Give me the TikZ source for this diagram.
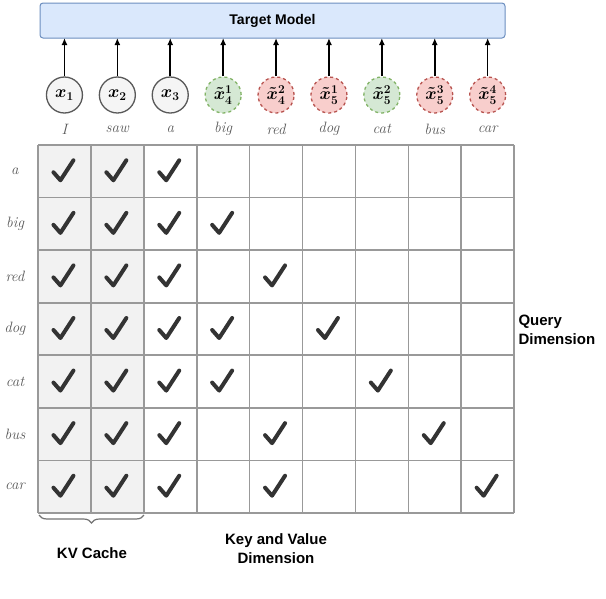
\documentclass[tikz,border=0pt]{standalone}
\usepackage{fontspec}
\newfontfamily\hv{Liberation Sans}
\usetikzlibrary{decorations.pathreplacing,arrows.meta}
\definecolor{gfill}{HTML}{D5E8D4}\definecolor{gdraw}{HTML}{82B366}
\definecolor{rfill}{HTML}{F8CECC}\definecolor{rdraw}{HTML}{B85450}
\definecolor{bfill}{HTML}{DAE8FC}\definecolor{bdraw}{HTML}{6C8EBF}
\definecolor{chk}{HTML}{333333}
\begin{document}
\begin{tikzpicture}[x=1pt,y=-1pt,
 tok/.style={circle,minimum size=36pt,inner sep=0pt,line width=1.3pt,font=\LARGE\boldmath},
 gtok/.style={tok,draw=black!65,fill=black!4},
 gok/.style={tok,draw=gdraw,fill=gfill,dashed},
 rok/.style={tok,draw=rdraw,fill=rfill,dashed},
 lab/.style={font=\fontsize{15}{15}\selectfont\itshape,text=black!65},
 bold/.style={font=\hv\bfseries\fontsize{15}{19}\selectfont,align=center},
 chkm/.style={draw=chk,line width=4pt,line cap=round,line join=round}]
\useasboundingbox (0,0) rectangle (606,598);
\node[draw=bdraw,fill=bfill,rounded corners=3pt,line width=1pt,minimum width=465pt,minimum height=35pt,inner sep=0pt,font=\hv\bfseries\fontsize{14}{14}\selectfont] (tm) at (272.5,20.5) {Target Model};
% grid
\def\cw{52.9}\def\rh{52.57}
\fill[black!5] (38,145) rectangle (143.8,513);
\foreach \i in {0,...,9} \draw[black!40,line width=1.6pt] (38+\i*\cw,145) -- (38+\i*\cw,513);
\foreach \j in {0,...,7} \draw[black!40,line width=1.6pt] (38,145+\j*\rh) -- (514,145+\j*\rh);
% tokens
\foreach \k/\s/\t in {1/gtok/{x_1},2/gtok/{x_2},3/gtok/{x_3},4/gok/{\tilde{x}_4^1},5/rok/{\tilde{x}_4^2},6/rok/{\tilde{x}_5^1},7/gok/{\tilde{x}_5^2},8/rok/{\tilde{x}_5^3},9/rok/{\tilde{x}_5^4}}{
 \node[\s] (t\k) at ({38+(\k-0.5)*\cw},95) {$\t$};
 \coordinate (u\k) at ({38+(\k-0.5)*\cw},38);
 \draw[-{Latex[length=7pt,width=6pt]},line width=1.6pt] (t\k.north) -- (u\k);
}
\foreach \k/\w in {1/I,2/saw,3/a,4/big,5/red,6/dog,7/cat,8/bus,9/car}
 \node[lab] (c\k) at ({38+(\k-0.5)*\cw},129) {\w};
\foreach \j/\w in {1/a,2/big,3/red,4/dog,5/cat,6/bus,7/car}
 \node[lab] (r\j) at (15,{145+(\j-0.5)*\rh}) {\w};
% checks
\foreach \j/\cols in {1/{1,2,3},2/{1,2,3,4},3/{1,2,3,5},4/{1,2,3,4,6},5/{1,2,3,4,7},6/{1,2,3,5,8},7/{1,2,3,5,9}}{
 \foreach \k in \cols {
  \draw[chkm] ({38+(\k-0.5)*\cw-11},{145+(\j-0.5)*\rh+1}) -- ++(7,8) -- ++(13,-20);
 }}
\node[bold,align=left,anchor=west] (qd) at (515,330) {Query\\Dimension};
\node[bold] (kv) at (276,549) {Key and Value\\Dimension};
\draw[decorate,decoration={brace,mirror,amplitude=8pt},black!55,line width=1.2pt] (39,515) -- (144,515);
\node[bold] (kvc) at (92,553) {KV Cache};
\end{tikzpicture}
\end{document}
